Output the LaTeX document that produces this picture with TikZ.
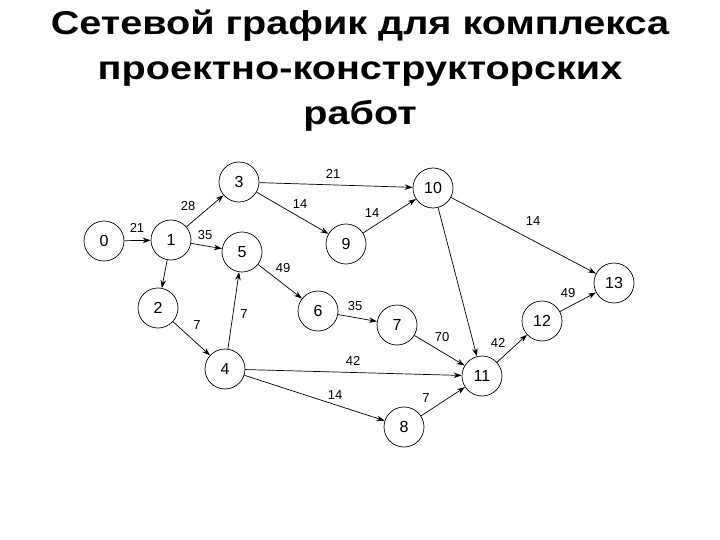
\documentclass[tikz,border=0pt]{standalone}
\usepackage{fontspec}
\setmainfont{Liberation Sans}
\usetikzlibrary{arrows.meta}
\newcommand{\widetitle}[1]{\scalebox{1.2}[1]{#1}}
\begin{document}
\begin{tikzpicture}[x=1pt,y=-1pt,
  ev/.style={circle,draw,line width=0.7pt,minimum size=40pt,inner sep=0pt,font=\fontsize{16}{18}\selectfont},
  arr/.style={line width=0.7pt,-{Stealth[length=8pt,width=5.5pt]}},
  lbl/.style={font=\fontsize{13}{15}\selectfont,inner sep=0pt},
  ttl/.style={font=\bfseries\fontsize{33}{38}\selectfont,inner sep=0pt,anchor=base}]
\useasboundingbox (0,0) rectangle (720,540);
\node[ttl] (t1) at (360,35) {\widetitle{Сетевой график для комплекса}};
\node[ttl] (t2) at (360,80) {\widetitle{проектно-конструкторских}};
\node[ttl] (t3) at (360,125) {\widetitle{работ}};
\node[ev] (n0) at (104,241) {0};
\node[ev] (n1) at (171,240) {1};
\node[ev] (n3) at (239,182) {3};
\node[ev] (n5) at (242,252) {5};
\node[ev] (n10) at (433,188) {10};
\node[ev] (n9) at (346,244) {9};
\node[ev] (n13) at (614,283) {13};
\node[ev] (n2) at (158,308) {2};
\node[ev] (n4) at (225,369) {4};
\node[ev] (n6) at (318,311) {6};
\node[ev] (n7) at (397,325) {7};
\node[ev] (n11) at (482,376) {11};
\node[ev] (n12) at (542,321) {12};
\node[ev] (n8) at (404,427) {8};
\draw[arr] (n0) -- (n1);
\draw[arr] (n1) -- (n3);
\draw[arr] (n1) -- (n5);
\draw[arr] (n1) -- (n2);
\draw[arr] (n3) -- (n10);
\draw[arr] (n3) -- (n9);
\draw[arr] (n9) -- (n10);
\draw[arr] (n10) -- (n13);
\draw[arr] (n10) -- (n11);
\draw[arr] (n5) -- (n6);
\draw[arr] (n2) -- (n4);
\draw[arr] (n4) -- (n5);
\draw[arr] (n6) -- (n7);
\draw[arr] (n7) -- (n11);
\draw[arr] (n4) -- (n11);
\draw[arr] (n4) -- (n8);
\draw[arr] (n8) -- (n11);
\draw[arr] (n11) -- (n12);
\draw[arr] (n12) -- (n13);
\node[lbl] (l01) at (137,228) {21};
\node[lbl] (l13) at (188,206) {28};
\node[lbl] (l15) at (205,235) {35};
\node[lbl] (l310) at (333,174) {21};
\node[lbl] (l39) at (300,204) {14};
\node[lbl] (l910) at (372,213) {14};
\node[lbl] (l1013) at (533,221) {14};
\node[lbl] (l56) at (283,268) {49};
\node[lbl] (l24) at (197,325) {7};
\node[lbl] (l45) at (244,314) {7};
\node[lbl] (l67) at (355,306) {35};
\node[lbl] (l711) at (442,337) {70};
\node[lbl] (l411) at (353,361) {42};
\node[lbl] (l48) at (335,395) {14};
\node[lbl] (l811) at (426,398) {7};
\node[lbl] (l1112) at (498,343) {42};
\node[lbl] (l1213) at (568,293) {49};
\end{tikzpicture}
\end{document}
